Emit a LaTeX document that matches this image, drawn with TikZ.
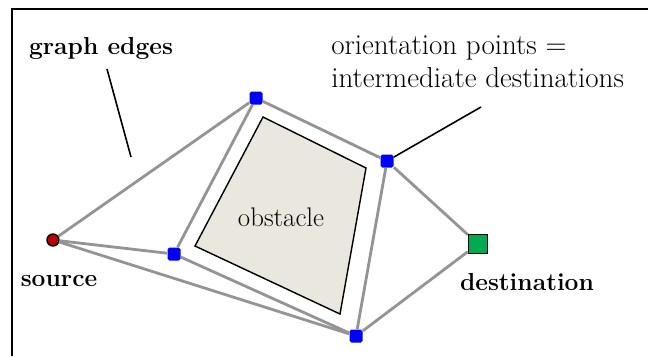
\documentclass[tikz,border=0pt]{standalone}
\usepackage{tikz}
\usetikzlibrary{positioning}

\tikzset{
  orient/.style={fill=blue, rectangle, rounded corners=1pt, minimum size=0.26cm, inner sep=0pt},
  gedge/.style={line width=1.6pt, black!42},
  pointer/.style={line width=0.9pt, black},
  lbl/.style={font=\fontsize{14}{17}\selectfont, inner sep=0pt}
}

\begin{document}
\begin{tikzpicture}[x=0.02cm,y=-0.02cm]
\useasboundingbox (0,0) rectangle (648,356);
% frame
\draw[line width=1.1pt] (12,356) -- (12,9) -- (648,9);
% obstacle
\draw[fill={rgb,255:red,233;green,231;blue,222}, line width=0.8pt] (263,117) -- (366,168) -- (340,314) -- (195,246) -- cycle;
\node[lbl, font=\fontsize{15.3}{17}\selectfont] (obst) at (281,217) {obstacle};
% source, destination and orientation points
\node[circle, fill={rgb,255:red,190;green,0;blue,0}, draw=black, line width=0.8pt, minimum size=0.24cm, inner sep=0pt] (src) at (53,240) {};
\node[rectangle, fill={rgb,255:red,0;green,170;blue,80}, draw=black, line width=0.8pt, minimum size=0.38cm, inner sep=0pt] (dst) at (478,244) {};
\node[orient] (o1) at (174,254) {};
\node[orient] (o2) at (256,98) {};
\node[orient] (o3) at (387,161) {};
\node[orient] (o4) at (356,336) {};
% graph edges
\foreach \a/\b in {src/o1,src/o2,src/o4,o1/o2,o1/o4,o2/o3,o3/o4,o3/dst,o4/dst}
  \draw[gedge] (\a) -- (\b);
% labels
\node[lbl, font=\fontsize{14}{17}\selectfont\bfseries] (srclbl) at (59,281) {source};
\node[lbl, font=\fontsize{14}{17}\selectfont\bfseries] (dstlbl) at (527,282) {destination};
\node[lbl, font=\fontsize{14}{17}\selectfont\bfseries] (edgelbl) at (101,48) {graph edges};
\node[lbl, align=left, anchor=north west, font=\fontsize{16.5}{19}\selectfont] (orientlbl) at (331,35) {orientation points =\\intermediate destinations};
% pointers
\coordinate (edgetip) at (131,157);
\coordinate (edgefoot) at (107,69);
\draw[pointer] (edgefoot) -- (edgetip);
\coordinate (orientfoot) at (481,107);
\draw[pointer] (orientfoot) -- (o3);
\end{tikzpicture}
\end{document}
